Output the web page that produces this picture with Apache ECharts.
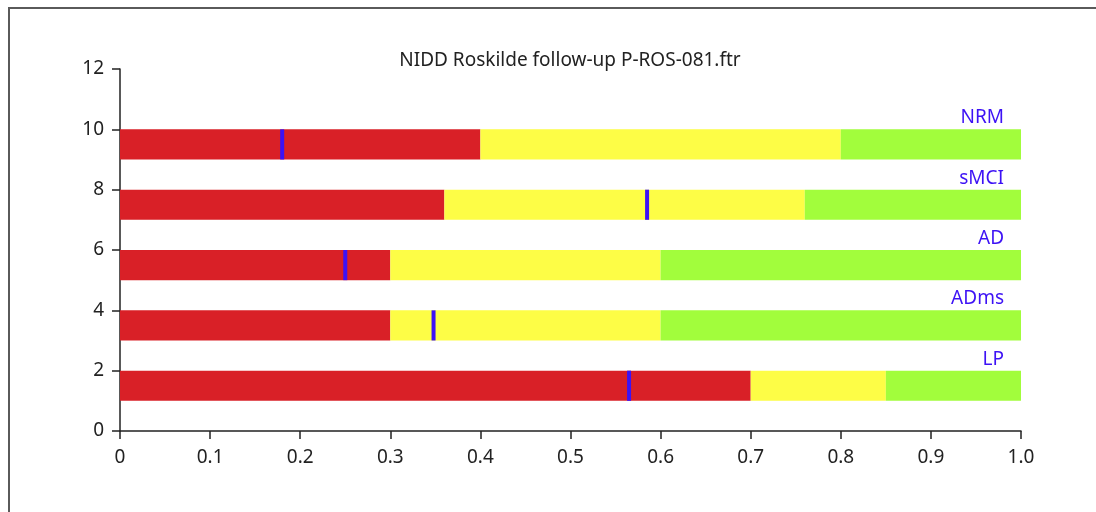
<!DOCTYPE html>
<html><head><meta charset="utf-8">
<script src="https://cdn.jsdelivr.net/npm/echarts@6/dist/echarts.min.js"></script>
<style>html,body{margin:0;padding:0;background:#fff}#c{width:1096px;height:512px}</style>
</head><body><div id="c"></div><script>
// ---- data ----
const groups    = ['LP', 'ADms', 'AD', 'sMCI', 'NRM'];
const yBase     = [1, 3, 5, 7, 9];
const yTop      = [2, 4, 6, 8, 10];
const redEnd    = [0.70, 0.30, 0.30, 0.36, 0.40];
const yellowEnd = [0.85, 0.60, 0.60, 0.76, 0.80];
const greenEnd  = [1.0, 1.0, 1.0, 1.0, 1.0];
const markers   = [0.565, 0.348, 0.25, 0.585, 0.18];
const xTicks    = [0, 0.1, 0.2, 0.3, 0.4, 0.5, 0.6, 0.7, 0.8, 0.9, 1.0];
const yTicks    = [0, 2, 4, 6, 8, 10, 12];
const title     = 'NIDD Roskilde follow-up P-ROS-081.ftr';

const zoneColors = ['#d92027', '#fdfd46', '#a2fd3c'];
const blue = '#3d12f5';
const FONT = 'Noto Sans';

const segData = [];
groups.forEach((g, i) => {
  segData.push([0, redEnd[i], yBase[i], yTop[i], 0]);
  segData.push([redEnd[i], yellowEnd[i], yBase[i], yTop[i], 1]);
  segData.push([yellowEnd[i], greenEnd[i], yBase[i], yTop[i], 2]);
});
const markData = groups.map((g, i) => [markers[i], yBase[i], yTop[i]]);
const labelData = groups.map((g, i) => [greenEnd[i], yTop[i], g]);

const chart = echarts.init(document.getElementById('c'));
chart.setOption({
  animation: false,
  backgroundColor: '#fff',
  textStyle: { fontFamily: FONT },
  graphic: [{
    type: 'rect', z: 100, silent: true,
    shape: { x: 9, y: 8, width: 1200, height: 600 },
    style: { fill: 'none', stroke: '#5a5a5a', lineWidth: 2 }
  }],
  title: {
    text: title, left: 570, top: 51, textAlign: 'center', padding: 0,
    textStyle: { fontFamily: FONT, fontSize: 19, fontWeight: 'normal', color: '#222' }
  },
  grid: { left: 120, right: 75, top: 69, bottom: 81 },
  xAxis: {
    type: 'value', min: 0, max: 1, interval: 0.1,
    axisLine: { show: true, lineStyle: { color: '#222', width: 1.5 } },
    axisTick: { show: true, length: 8, lineStyle: { color: '#222', width: 1.5 } },
    axisLabel: {
      margin: 17, fontSize: 19, color: '#222', fontFamily: FONT,
      formatter: v => { const t = xTicks.find(x => Math.abs(x - v) < 1e-9); return t === 0 ? '0' : (t !== undefined ? t.toFixed(1) : ''); }
    },
    splitLine: { show: false }
  },
  yAxis: {
    type: 'value', min: 0, max: 12, interval: 2,
    axisLine: { show: true, lineStyle: { color: '#222', width: 1.5 } },
    axisTick: { show: true, length: 8, lineStyle: { color: '#222', width: 1.5 } },
    axisLabel: { margin: 16, fontSize: 19, color: '#222', fontFamily: FONT,
      formatter: v => String(yTicks.find(y => y === v) ?? v) },
    splitLine: { show: false }
  },
  series: [
    {
      type: 'custom', data: segData, z: 2,
      renderItem: (params, api) => {
        const p0 = api.coord([api.value(0), api.value(3)]);
        const p1 = api.coord([api.value(1), api.value(2)]);
        return { type: 'rect', shape: { x: p0[0], y: p0[1], width: p1[0] - p0[0], height: p1[1] - p0[1] },
          style: { fill: zoneColors[api.value(4)] } };
      }
    },
    {
      type: 'custom', data: markData, z: 3,
      renderItem: (params, api) => {
        const p0 = api.coord([api.value(0), api.value(2)]);
        const p1 = api.coord([api.value(0), api.value(1)]);
        return { type: 'rect', shape: { x: p0[0] - 2, y: p0[1], width: 4, height: p1[1] - p0[1] },
          style: { fill: blue } };
      }
    },
    {
      type: 'custom', data: labelData, z: 4,
      renderItem: (params, api) => {
        const p = api.coord([api.value(0), api.value(1)]);
        return { type: 'text', x: p[0] - 17, y: p[1] - 2,
          style: { text: labelData[params.dataIndex][2], fill: blue, fontSize: 19, fontFamily: FONT,
            textAlign: 'right', textVerticalAlign: 'bottom' } };
      }
    }
  ]
});
</script></body></html>
